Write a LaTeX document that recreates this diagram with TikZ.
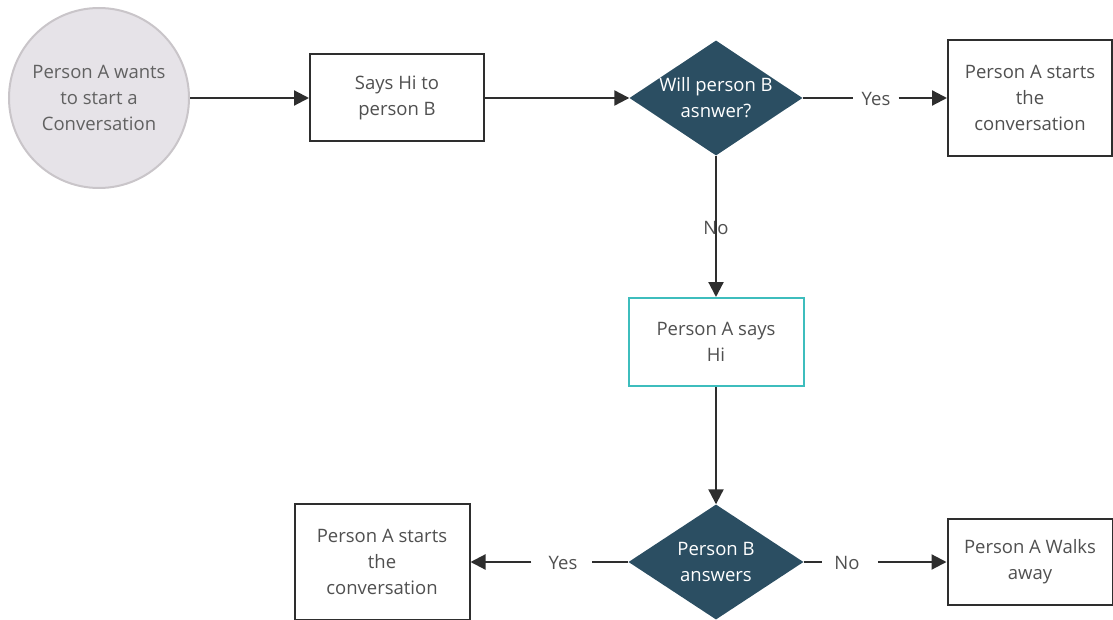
\documentclass[tikz,border=0pt]{standalone}
\usepackage{fontspec}
\setmainfont{Open Sans}
\usetikzlibrary{shapes.geometric,arrows.meta}
\definecolor{dia}{HTML}{2B4E62}
\definecolor{txt}{HTML}{505050}
\definecolor{circfill}{HTML}{E6E3E8}
\definecolor{circline}{HTML}{C9C5C9}
\definecolor{teal}{HTML}{3DBDBD}
\definecolor{edge}{HTML}{2E2E2E}
\tikzset{
  every node/.style={font=\fontsize{18.5}{26}\selectfont, text=txt, align=center},
  procbox/.style={draw=edge, line width=2pt, fill=white, inner sep=0pt},
  decision/.style={diamond, fill=dia, draw=none, inner sep=0pt},
  dtext/.style={text=white, inner sep=0pt},
  conn/.style={draw=edge, line width=2.2pt},
  arr/.style={conn, -{Triangle[length=15pt,width=15pt]}},
  lbl/.style={inner sep=0pt, text=txt}
}
\begin{document}
\begin{tikzpicture}[x=1pt,y=-1pt]
\useasboundingbox (0,0) rectangle (1113,620);
\node[circle, fill=circfill, draw=circline, line width=2pt, minimum size=180pt, inner sep=0pt, text=txt!90] (start) at (99,98) {Person A wants\\to start a\\Conversation};
\node[procbox, minimum width=174pt, minimum height=87pt] (hi) at (397,98) {Says Hi to\\person B};
\node[decision, minimum width=173pt, minimum height=115pt] (q1) at (716,98) {};
\node[dtext] (q1t) at (q1.center) {Will person B\\asnwer?};
\node[procbox, minimum width=164pt, minimum height=116pt] (yes1) at (1030,98) {Person A starts\\the\\conversation};
\node[procbox, draw=teal, minimum width=175pt, minimum height=88pt] (sayshi) at (716,342) {Person A says\\Hi};
\node[decision, minimum width=175pt, minimum height=115pt] (q2) at (716,562) {};
\node[dtext] (q2t) at (q2.center) {Person B\\answers};
\node[procbox, minimum width=175pt, minimum height=116pt] (yes2) at (382,562) {Person A starts\\the\\conversation};
\node[procbox, minimum width=165pt, minimum height=86pt] (away) at (1030,562) {Person A Walks\\away};
% labels
\node[lbl] (lyes1) at (876,99) {Yes};
\node[lbl] (lno1) at (716,228) {No};
\node[lbl] (lyes2) at (563,563) {Yes};
\node[lbl] (lno2) at (847,563) {No};
% connectors
\draw[arr] (start.east) -- (hi.west);
\draw[arr] (hi.east) -- (q1.west);
\draw[conn] (q1.east) -- ([xshift=-8pt]lyes1.west |- q1.east);
\draw[arr] ([xshift=8pt]lyes1.east |- q1.east) -- (yes1.west);
\draw[conn] (q1.south) -- ([yshift=-12pt]lno1.north);
\draw[arr] ([yshift=10pt]lno1.south) -- (sayshi.north);
\draw[arr] (sayshi.south) -- (q2.north);
\draw[conn] (q2.west) -- ([xshift=14pt]lyes2.east |- q2.west);
\draw[arr] ([xshift=-17pt]lyes2.west |- q2.west) -- (yes2.east);
\draw[conn] (q2.east) -- ([xshift=-12pt]lno2.west |- q2.east);
\draw[arr] ([xshift=18pt]lno2.east |- q2.east) -- (away.west);
\end{tikzpicture}
\end{document}
